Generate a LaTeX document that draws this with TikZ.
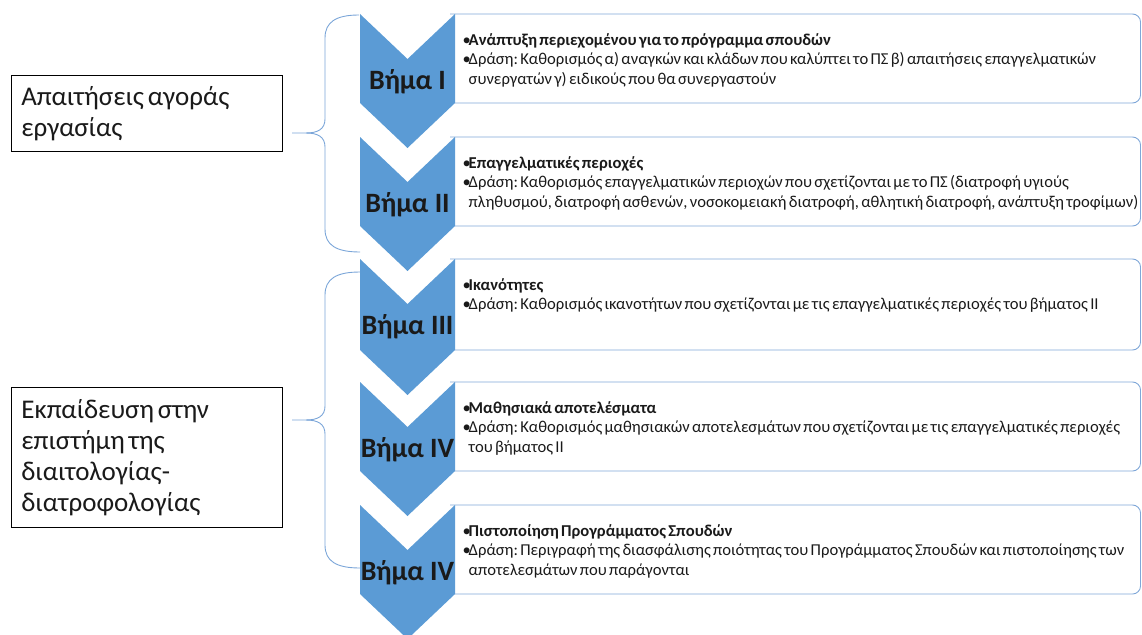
\documentclass[tikz,border=0pt]{standalone}
\usepackage{fontspec}
\setmainfont{Carlito}
\definecolor{chev}{HTML}{5B9BD5}
\definecolor{boxline}{HTML}{7FA7D8}
\definecolor{bracecol}{HTML}{7AA5D8}
\definecolor{txt}{HTML}{1A1A1A}
\newcommand\tightsp{\spaceskip=0.14em plus 0.05em\relax\xspaceskip=\spaceskip}
\tikzset{
  chevshape/.style={fill=chev, draw=none},
  stepbox/.style={draw=boxline, line width=0.9pt, rounded corners=8pt},
  steplabel/.style={font=\fontsize{28}{30}\selectfont\bfseries, text=txt, inner sep=0pt},
  steptext/.style={font=\fontsize{16.6}{19.5}\selectfont, text=txt, align=left, anchor=north west, inner sep=0pt},
  sidebox/.style={draw=black, line width=0.7pt, font=\fontsize{27}{31}\selectfont, text=txt, align=left,
    anchor=north west, text width=251pt, inner xsep=10pt, inner ysep=0pt, minimum width=271pt},
  bracepath/.style={draw=bracecol, line width=0.9pt}
}
\newcommand\stepblock[5]{%
  % #1 name, #2 top, #3 bottom, #4 label, #5 text
  \draw[stepbox] (450,#2) -- (1140.5,#2) -- (1140.5,#3) -- (450,#3);
  \fill[chevshape] (360,#2) -- (407.5,{#2+45}) -- (455,#2) -- (455,#3) -- (407.5,{#3+45}) -- (360,#3) -- cycle;
  \node[steplabel] (#1lab) at (407.5,{#2+68}) {#4};
  \node[steptext] (#1txt) at (462.5,{#2+19}) {\tightsp #5};
}
\newcommand\bl{\makebox[6pt][l]{•}}
\newcommand\ind{\hspace*{6pt}}
\begin{document}
\begin{tikzpicture}[x=1pt,y=-1pt]
\useasboundingbox (0,0) rectangle (1142,634);
\clip (0,0) rectangle (1142,634);

\stepblock{s1}{14}{103}{Βήμα I}{\bl\textbf{\tightsp Ανάπτυξη περιεχομένου για το πρόγραμμα σπουδών}\\
\tightsp\bl Δράση: Καθορισμός α) αναγκών και κλάδων που καλύπτει το ΠΣ β) απαιτήσεις επαγγελματικών\\
\tightsp\ind συνεργατών γ) ειδικούς που θα συνεργαστούν}

\stepblock{s2}{137}{226}{Βήμα II}{\bl\textbf{\tightsp Επαγγελματικές περιοχές}\\
\tightsp\bl Δράση: Καθορισμός επαγγελματικών περιοχών που σχετίζονται με το ΠΣ (διατροφή υγιούς\\
\tightsp\ind πληθυσμού, διατροφή ασθενών, νοσοκομειακή διατροφή, αθλητική διατροφή, ανάπτυξη τροφίμων)}

\stepblock{s3}{259}{350}{Βήμα III}{\bl\textbf{\tightsp Ικανότητες}\\
\tightsp\bl Δράση: Καθορισμός ικανοτήτων που σχετίζονται με τις επαγγελματικές περιοχές του βήματος II}

\stepblock{s4}{382}{471}{Βήμα IV}{\bl\textbf{\tightsp Μαθησιακά αποτελέσματα}\\
\tightsp\bl Δράση: Καθορισμός μαθησιακών αποτελεσμάτων που σχετίζονται με τις επαγγελματικές περιοχές\\
\tightsp\ind του βήματος II}

\stepblock{s5}{505}{594}{Βήμα IV}{\bl\textbf{\tightsp Πιστοποίηση Προγράμματος Σπουδών}\\
\tightsp\bl Δράση: Περιγραφή της διασφάλισης ποιότητας του Προγράμματος Σπουδών και πιστοποίησης των\\
\tightsp\ind αποτελεσμάτων που παράγονται}

% side boxes
\node[sidebox, minimum height=76pt] (L1) at (11,75) {\tightsp Απαιτήσεις αγοράς\\εργασίας};
\node[sidebox, minimum height=140pt] (L2) at (11,387) {\tightsp Εκπαίδευση στην\\\tightsp επιστήμη της\\διαιτολογίας-\\διατροφολογίας};

% braces
\coordinate (b1tip) at (292,133);
\draw[bracepath] (359,15) .. controls (336,15) and (325,22) .. (325,38) -- (325,119)
  .. controls (325,129) and (318,133) .. (306,133) -- (b1tip);
\draw[bracepath] (306,133) .. controls (318,133) and (325,137) .. (325,147) -- (325,229)
  .. controls (325,245) and (336,252) .. (360,252);

\coordinate (b2tip) at (292,420);
\draw[bracepath] (360,272) .. controls (336,272) and (325,279) .. (325,295) -- (325,406)
  .. controls (325,416) and (318,420) .. (306,420) -- (b2tip);
\draw[bracepath] (306,420) .. controls (318,420) and (325,424) .. (325,434) -- (325,545)
  .. controls (325,561) and (336,568) .. (360,568);
\end{tikzpicture}
\end{document}
